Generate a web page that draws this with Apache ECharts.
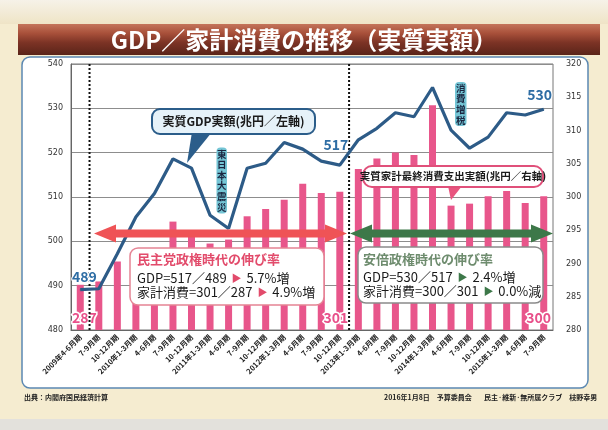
<!DOCTYPE html>
<html><head><meta charset="utf-8">
<script src="https://cdn.jsdelivr.net/npm/echarts@6/dist/echarts.min.js"></script>
<style>html,body{margin:0;padding:0;background:#f4ebcf;}#c{width:608px;height:430px;}</style>
</head><body><div id="c"></div>
<script>
const categories = ['2009年4-6月期','7-9月期','10-12月期','2010年1-3月期','4-6月期','7-9月期','10-12月期','2011年1-3月期','4-6月期','7-9月期','10-12月期','2012年1-3月期','4-6月期','7-9月期','10-12月期','2013年1-3月期','4-6月期','7-9月期','10-12月期','2014年1-3月期','4-6月期','7-9月期','10-12月期','2015年1-3月期','4-6月期','7-9月期'];
const gdpValues = [489.1, 489.3, 497.2, 505.5, 510.8, 518.6, 516.5, 505.9, 502.9, 516.5, 517.6, 522.3, 520.8, 518.1, 517.2, 522.9, 525.5, 529.0, 528.1, 534.7, 525.1, 521.0, 523.5, 529.0, 528.5, 529.8];
const consumptionValues = [286.8, 287.3, 290.3, 291.8, 292.3, 296.3, 294.3, 293.0, 293.6, 297.1, 298.2, 299.6, 302.0, 300.6, 300.8, 304.2, 305.8, 306.7, 306.3, 313.8, 298.7, 299.0, 300.1, 300.9, 299.1, 300.1];
const leftTicks = [480, 490, 500, 510, 520, 530, 540];
const rightTicks = [280, 285, 290, 295, 300, 305, 310, 315, 320];
const gdpLabels = {0: '489', 14: '517', 25: '530'};
const consLabels = {0: '287', 14: '301', 25: '300'};

const G = {left: 71, right: 55, top: 64, bottom: 100};
const plotW = 608 - G.left - G.right;
const bx = k => G.left + plotW * k / categories.length;

const chart = echarts.init(document.getElementById('c'), null, {renderer: 'canvas'});
const numFont = 'Noto Sans CJK JP';
const gdpOffsets = {0: [4, 0], 14: [-4, -8], 25: [-4, -2]};
const consOffsets = {0: [4, 0], 14: [-4, 0], 25: [-5, 0]};

function arrow(x1, x2, y, fill) {
  const hl = 22, hh = 9, st = 4;
  return {type: 'polygon', z: 100, shape: {points: [[x1, y], [x1 + hl, y - hh], [x1 + hl, y - st], [x2 - hl, y - st], [x2 - hl, y - hh], [x2, y], [x2 - hl, y + hh], [x2 - hl, y + st], [x1 + hl, y + st], [x1 + hl, y + hh]]}, style: {fill: fill}};
}
function dotted(x) {
  return {type: 'line', z: 4, shape: {x1: x, y1: G.top, x2: x, y2: 430 - G.bottom}, style: {stroke: '#111', lineWidth: 2, lineDash: [2, 2]}};
}
function vlabel(x, y, w, h, txt) {
  return [
    {type: 'rect', z: 95, shape: {x: x, y: y, width: w, height: h, r: 4}, style: {fill: '#74c5d5'}},
    {type: 'text', z: 96, style: {x: x + w / 2, y: y + h / 2, text: txt.split('').join('\n'), fill: '#1b2640', font: 'bold 9.5px "Noto Sans CJK JP"', lineHeight: 10.6, align: 'center', verticalAlign: 'middle'}}
  ];
}
function rich(col) {
  return {
    a: {fontFamily: 'Noto Sans CJK JP', fontSize: 13, fill: '#1a1a1a'},
    p: {fontFamily: 'Noto Sans CJK JP', fontSize: 10, fill: col, padding: [0, 2, 0, 2]}
  };
}

const graphics = [
  {type: 'rect', z: -30, shape: {x: 0, y: 0, width: 608, height: 430}, style: {fill: '#f5ecd0'}},
  {type: 'rect', z: -29, shape: {x: 0, y: 0, width: 608, height: 24}, style: {fill: new echarts.graphic.LinearGradient(0, 0, 0, 1, [{offset: 0, color: '#f6f2e8'}, {offset: 1, color: '#efe4c6'}])}},
  {type: 'rect', z: -28, shape: {x: 18, y: 24, width: 582, height: 31}, style: {fill: new echarts.graphic.LinearGradient(0, 0, 0, 1, [{offset: 0, color: '#c4745a'}, {offset: 0.3, color: '#a8503a'}, {offset: 0.6, color: '#7c3325'}, {offset: 1, color: '#5a2419'}])}},
  {type: 'text', z: -27, style: {x: 304, y: 40, text: 'GDP／家計消費の推移（実質実額）', fill: '#ffffff', font: 'bold 24px "Noto Sans CJK JP"', align: 'center', verticalAlign: 'middle'}},
  {type: 'rect', z: -26, shape: {x: 22, y: 57, width: 566, height: 331, r: 8}, style: {fill: '#ffffff', stroke: '#5b88b2', lineWidth: 1.5}},
  {type: 'text', z: -25, style: {x: 24, y: 397, text: '出典：内閣府国民経済計算', fill: '#222', font: 'bold 7px "Noto Sans CJK JP"', verticalAlign: 'middle'}},
  {type: 'text', z: -25, style: {x: 384, y: 397, text: '2016年1月8日　予算委員会', fill: '#222', font: 'bold 7px "Noto Sans CJK JP"', verticalAlign: 'middle'}},
  {type: 'text', z: -25, style: {x: 484, y: 397, text: '民主·維新·無所属クラブ　枝野幸男', fill: '#222', font: 'bold 7px "Noto Sans CJK JP"', verticalAlign: 'middle'}},
  {type: 'rect', z: -25, shape: {x: 0, y: 419, width: 608, height: 11}, style: {fill: '#e3e1dc'}},
  dotted(bx(1)), dotted(bx(15)),
  arrow(94, 347, 233.5, '#ef5356'),
  arrow(350, 553, 233.5, '#3d7849'),
  // GDP callout
  {type: 'polygon', z: 100, shape: {points: [[192, 132], [212, 132], [187, 163]]}, style: {fill: '#2b5d8a'}},
  {type: 'rect', z: 101, shape: {x: 152, y: 109, width: 163, height: 25, r: 8}, style: {fill: '#e6f2f9', stroke: '#2b5d8a', lineWidth: 2}},
  {type: 'text', z: 102, style: {x: 233.5, y: 121.5, text: '実質GDP実額(兆円／左軸)', fill: '#1a1a1a', font: 'bold 12px "Noto Sans CJK JP"', align: 'center', verticalAlign: 'middle'}},
  // consumption callout
  {type: 'polygon', z: 100, shape: {points: [[448, 186], [462, 186], [451, 200]]}, style: {fill: '#e8557f'}},
  {type: 'rect', z: 101, shape: {x: 363, y: 166, width: 180, height: 21, r: 9}, style: {fill: '#ffffff', stroke: '#e0507a', lineWidth: 2}},
  {type: 'text', z: 102, style: {x: 453, y: 176.5, text: '実質家計最終消費支出実額(兆円／右軸)', fill: '#1a1a1a', font: 'bold 10.5px "Noto Sans CJK JP"', align: 'center', verticalAlign: 'middle'}},
  // DPJ box
  {type: 'rect', z: 101, shape: {x: 130, y: 248, width: 194, height: 57, r: 8}, style: {fill: '#ffffff', stroke: '#e58494', lineWidth: 1.5}},
  {type: 'text', z: 102, style: {x: 137, y: 259, text: '民主党政権時代の伸び率', fill: '#e24b6b', font: 'bold 13px "Noto Sans CJK JP"', verticalAlign: 'middle'}},
  {type: 'text', z: 102, style: {x: 137, y: 278, text: '{a|GDP=517／489 }{p|▶}{a| 5.7%増}', rich: rich('#e24b6b'), verticalAlign: 'middle'}},
  {type: 'text', z: 102, style: {x: 137, y: 292.5, text: '{a|家計消費=301／287 }{p|▶}{a| 4.9%増}', rich: rich('#e24b6b'), verticalAlign: 'middle'}},
  // Abe box
  {type: 'rect', z: 101, shape: {x: 358, y: 247, width: 185, height: 56, r: 8}, style: {fill: '#ffffff', stroke: '#8a8a8a', lineWidth: 1.5}},
  {type: 'text', z: 102, style: {x: 363, y: 259, text: '安倍政権時代の伸び率', fill: '#6e8c6e', font: 'bold 13px "Noto Sans CJK JP"', verticalAlign: 'middle'}},
  {type: 'text', z: 102, style: {x: 363, y: 277.5, text: '{a|GDP=530／517 }{p|▶}{a| 2.4%増}', rich: rich('#3d7849'), verticalAlign: 'middle'}},
  {type: 'text', z: 102, style: {x: 363, y: 291.5, text: '{a|家計消費=300／301 }{p|▶}{a| 0.0%減}', rich: rich('#3d7849'), verticalAlign: 'middle'}}
].concat(vlabel(216.5, 147.5, 10.5, 66, '東日本大震災'), vlabel(455, 82, 11.5, 44, '消費増税'));

chart.setOption({
  animation: false,
  backgroundColor: 'transparent',
  grid: {left: G.left, right: G.right, top: G.top, bottom: G.bottom, show: true, borderColor: '#777', borderWidth: 1, backgroundColor: 'transparent'},
  xAxis: {
    type: 'category', data: categories, boundaryGap: true,
    axisLine: {lineStyle: {color: '#666'}}, axisTick: {show: false},
    axisLabel: {rotate: 45, interval: 0, fontSize: 7.5, fontWeight: 'bold', color: '#222', fontFamily: 'Noto Sans CJK JP', margin: 6}
  },
  yAxis: [
    {type: 'value', min: leftTicks[0], max: leftTicks[leftTicks.length - 1], interval: 10,
     axisLine: {show: true, lineStyle: {color: '#666'}}, axisTick: {show: false},
     splitLine: {lineStyle: {color: '#8d8d8d', width: 1}},
     axisLabel: {fontSize: 8, color: '#333', fontFamily: 'DejaVu Sans', margin: 8}},
    {type: 'value', min: rightTicks[0], max: rightTicks[rightTicks.length - 1], interval: 5, position: 'right',
     axisLine: {show: false}, axisTick: {show: false}, splitLine: {show: false},
     axisLabel: {fontSize: 8, color: '#333', fontFamily: 'DejaVu Sans', margin: 13}}
  ],
  series: [
    {type: 'bar', yAxisIndex: 1, barWidth: 7, z: 2,
     itemStyle: {color: '#e8568b'},
     data: consumptionValues.map((v, i) => consLabels[i] ? {value: v, label: {show: true, position: 'insideBottom', offset: consOffsets[i], formatter: consLabels[i], color: '#e8508a', fontSize: 14, fontWeight: 'bold', fontFamily: numFont, textBorderColor: '#fff', textBorderWidth: 3}} : v)},
    {type: 'line', yAxisIndex: 0, z: 5, symbol: 'circle', symbolSize: 1, showSymbol: true,
     itemStyle: {color: '#2d5b87'},
     lineStyle: {color: '#2d5b87', width: 3.2}, label: {show: false},
     data: gdpValues.map((v, i) => gdpLabels[i] ? {value: v, label: {show: true, position: 'top', offset: gdpOffsets[i], formatter: gdpLabels[i], color: '#2e6da4', fontSize: 14, fontWeight: 'bold', fontFamily: numFont, textBorderColor: '#fff', textBorderWidth: 2}} : v)}
  ],
  graphic: graphics
});
</script></body></html>
